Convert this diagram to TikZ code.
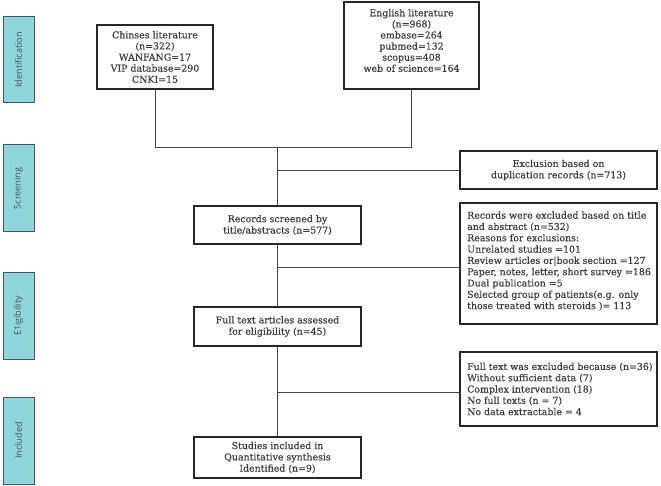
\documentclass[tikz,border=0pt]{standalone}
\usepackage{fontspec}
\setmainfont{DejaVu Serif}[BoldFont=DejaVu Serif, BoldFeatures={FakeBold=0.45}]
\setsansfont{Open Sans}
\definecolor{sidefill}{RGB}{142,214,219}
\definecolor{sideline}{RGB}{70,85,88}
\definecolor{txtc}{RGB}{60,60,60}
\definecolor{linec}{RGB}{70,70,70}
\begin{document}
\begin{tikzpicture}[x=1pt,y=-1pt,
  sidebox/.style={draw=sideline, fill=sidefill, line width=1pt, minimum height=31pt, inner sep=0pt,
    font=\sffamily\fontsize{9}{10}\selectfont, text=sideline, rotate=90},
  flowbox/.style={draw=black!85, line width=1.1pt, inner sep=0pt, text=txtc,
    font=\bfseries\fontsize{9.4}{11.3}\selectfont, align=center},
  lefttext/.style={text=txtc, font=\bfseries\fontsize{9.4}{11.3}\selectfont, align=left, inner sep=0pt},
  ctext/.style={text=txtc, font=\bfseries\fontsize{9.4}{11.1}\selectfont, align=center, inner sep=0pt},
  conn/.style={draw=linec, line width=0.9pt}]
\useasboundingbox (0,0) rectangle (661,486);
% side labels
\node[sidebox, minimum width=86pt] (sid) at (18.5,60) {Identification};
\node[sidebox, minimum width=87pt] (sscr) at (18.5,188.5) {Screening};
\node[sidebox, minimum width=86pt] (selg) at (18.5,316) {E1igibility};
\node[sidebox, minimum width=87pt] (sinc) at (18.5,440.5) {Included};
% identification boxes
\node[flowbox, minimum width=116pt, minimum height=64pt] (chn) at (155,57) {};
\node[ctext] (chnt) at (155,57) {Chinses literature\\(n=322)\\WANFANG=17\\VIP database=290\\CNKI=15};
\node[flowbox, minimum width=135pt, minimum height=87pt] (eng) at (411.5,45.5) {};
\node[ctext] (engt) at (411.5,40.5) {English literature\\(n=968)\\embase=264\\pubmed=132\\scopus=408\\web of science=164};
% main column
\node[flowbox, minimum width=167pt, minimum height=38pt] (rec) at (277.5,225) {Records screened by\\title/abstracts (n=577)};
\node[flowbox, minimum width=167pt, minimum height=39pt] (ft) at (277.5,326.5) {Full text articles assessed\\for eligibility (n=45)};
\node[flowbox, minimum width=167pt, minimum height=41pt] (stu) at (277.5,457.5) {Studies included in\\Quantitative synthesis\\Identified (n=9)};
% right column
\node[flowbox, minimum width=197pt, minimum height=38pt] (dup) at (558.5,170) {Exclusion based on\\duplication records (n=713)};
\node[flowbox, minimum width=197pt, minimum height=121pt] (rex) at (558.5,263.5) {};
\node[lefttext, anchor=west] (rext) at (467,261) {Records were excluded based on title\\and abstract (n=532)\\Reasons for exclusions:\\Unrelated studies =101\\Review articles or|book section =127\\Paper, notes, letter, short survey =186\\Dual publication =5\\Selected group of patients(e.g. only\\those treated with steroids )= 113};
\node[flowbox, minimum width=197pt, minimum height=74pt] (ftx) at (558.5,389) {};
\node[lefttext, anchor=west] (ftxt) at (467,389) {Full text was excluded because (n=36)\\Without sufficient data (7)\\Complex intervention (18)\\No full texts (n = 7)\\No data extractable = 4};
% connectors
\coordinate (join) at (277.5,147);
\coordinate (b1) at (277.5,170);
\coordinate (b2) at (277.5,267);
\coordinate (b3) at (277.5,392);
\draw[conn] (chn.south) |- (join);
\draw[conn] (eng.south) |- (join);
\draw[conn] (join) -- (rec.north);
\draw[conn] (b1) -- (dup.west);
\draw[conn] (rec.south) -- (ft.north);
\draw[conn] (b2) -- (b2 -| rex.west);
\draw[conn] (ft.south) -- (stu.north);
\draw[conn] (b3) -- (b3 -| ftx.west);
\end{tikzpicture}
\end{document}
